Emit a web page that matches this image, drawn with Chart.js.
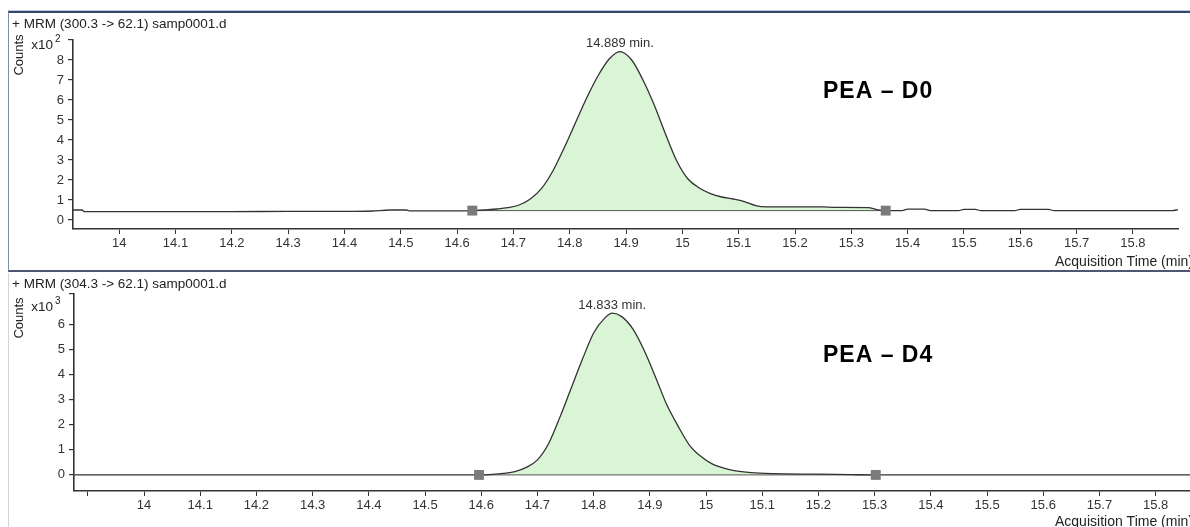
<!DOCTYPE html>
<html>
<head>
<meta charset="utf-8">
<title>MRM chromatograms</title>
<script src="https://cdn.jsdelivr.net/npm/chart.js@4.4.1/dist/chart.umd.min.js"></script>
<style>
  html, body { margin: 0; padding: 0; background: #fff; overflow: hidden; }
  body { width: 1190px; height: 527px; position: relative; }
  .frame { position: absolute; box-sizing: border-box; }
  #f1 { left: 8px; top: 11px; width: 1200px; height: 261px;
        border-top: 2px solid #34446a; border-left: 1px solid #7f8db0; border-bottom: 2px solid #4c5673;
        box-shadow: 0 -1px 0 #bccbea; }
  #f2 { left: 8px; top: 273px; width: 1200px; height: 270px; border-left: 1px solid #d4d4d4; }
  canvas { position: absolute; left: 0; }
  #c1 { top: 0; }
  #c2 { top: 272px; }
</style>
</head>
<body>
<div class="frame" id="f1"></div>
<div class="frame" id="f2"></div>
<canvas id="c1" width="1210" height="270"></canvas>
<canvas id="c2" width="1210" height="255"></canvas>
<script>
// shared x axis ticks (minutes)
const xTickValues = [13.9, 14.0, 14.1, 14.2, 14.3, 14.4, 14.5, 14.6, 14.7, 14.8, 14.9,
                     15.0, 15.1, 15.2, 15.3, 15.4, 15.5, 15.6, 15.7, 15.8];
const xTickLabels = ['', '14', '14.1', '14.2', '14.3', '14.4', '14.5', '14.6', '14.7', '14.8', '14.9',
                     '15', '15.1', '15.2', '15.3', '15.4', '15.5', '15.6', '15.7', '15.8'];

// PEA - D0 : MRM 300.3 -> 62.1, counts x10^2
const d0Time = [13.918, 13.934, 13.938, 14.0, 14.1, 14.2, 14.3, 14.4, 14.45, 14.48, 14.51, 14.515,
                14.6, 14.627, 14.65, 14.67, 14.69, 14.71, 14.73, 14.75, 14.77, 14.79, 14.81, 14.83,
                14.85, 14.87, 14.889, 14.91, 14.93, 14.95, 14.97, 14.99, 15.01, 15.03, 15.05, 15.07,
                15.09, 15.11, 15.13, 15.15, 15.25, 15.27, 15.33, 15.345, 15.361, 15.39, 15.4, 15.43,
                15.44, 15.49, 15.5, 15.52, 15.53, 15.59, 15.6, 15.65, 15.66, 15.87, 15.88];
const d0Counts = [0.5, 0.5, 0.42, 0.42, 0.42, 0.42, 0.43, 0.43, 0.45, 0.5, 0.5, 0.46,
                  0.46, 0.47, 0.5, 0.55, 0.62, 0.75, 1.05, 1.58, 2.45, 3.6, 4.85, 6.1,
                  7.2, 8.05, 8.42, 8.0, 7.0, 5.75, 4.3, 2.95, 2.05, 1.6, 1.32, 1.15,
                  1.05, 0.92, 0.72, 0.66, 0.66, 0.63, 0.62, 0.52, 0.47, 0.47, 0.54, 0.54,
                  0.47, 0.47, 0.53, 0.53, 0.47, 0.47, 0.53, 0.53, 0.47, 0.47, 0.52];
const d0Window = [14.627, 15.361];
const d0Base = 0.47;
const d0YTicks = [0, 1, 2, 3, 4, 5, 6, 7, 8, 9];
const d0YLabels = ['0', '1', '2', '3', '4', '5', '6', '7', '8', ''];

// PEA - D4 : MRM 304.3 -> 62.1, counts x10^3
const d4Time = [13.876, 14.3, 14.596, 14.62, 14.64, 14.66, 14.68, 14.7, 14.72, 14.74, 14.76,
                14.78, 14.8, 14.82, 14.833, 14.85, 14.87, 14.89, 14.91, 14.93, 14.95, 14.97,
                14.99, 15.01, 15.03, 15.05, 15.08, 15.12, 15.2, 15.26, 15.302, 15.87];
const d4Counts = [0, 0, 0, 0.02, 0.06, 0.13, 0.3, 0.6, 1.25, 2.3, 3.45,
                  4.6, 5.65, 6.25, 6.44, 6.3, 5.8, 4.95, 3.9, 2.8, 1.95, 1.2,
                  0.75, 0.45, 0.28, 0.17, 0.09, 0.05, 0.03, 0.01, 0, 0];
const d4Window = [14.596, 15.302];
const d4Base = 0;
const d4YTicks = [0, 1, 2, 3, 4, 5, 6, 7.2];
const d4YLabels = ['0', '1', '2', '3', '4', '5', '6', ''];

const FONT = '"Liberation Sans", Arial, sans-serif';

// text drawn around each chromatogram: header, Counts, exponent, peak apex, tag
const panelText = {
  id: 'panelText',
  afterDraw(chart, args, o) {
    const ctx = chart.ctx;
    const area = chart.chartArea;
    const xs = chart.scales.x, ys = chart.scales.y;
    ctx.save();
    ctx.fillStyle = '#222';
    ctx.textBaseline = 'middle';

    ctx.font = '13.5px ' + FONT;
    ctx.textAlign = 'left';
    ctx.fillText(o.title, 12, o.titleY);

    ctx.save();
    ctx.translate(19, o.countsY);
    ctx.rotate(-Math.PI / 2);
    ctx.textAlign = 'center';
    ctx.font = '13px ' + FONT;
    ctx.fillText('Counts', 0, 0);
    ctx.restore();

    ctx.font = '13.5px ' + FONT;
    ctx.textAlign = 'right';
    ctx.fillText('x10', 53, area.top + o.expDy);
    ctx.font = '10px ' + FONT;
    ctx.textAlign = 'left';
    ctx.fillText(o.exp, 55, area.top + o.expDy - 6);

    // apex of the trace
    const pts = chart.data.datasets[2].data;
    let peak = pts[0];
    pts.forEach(p => { if (p.y > peak.y) peak = p; });
    ctx.font = '13px ' + FONT;
    ctx.textAlign = 'center';
    ctx.fillStyle = '#333';
    ctx.fillText(peak.x.toFixed(3) + ' min.', xs.getPixelForValue(peak.x), ys.getPixelForValue(peak.y) - 8);

    ctx.fillStyle = '#222';
    ctx.textAlign = 'left';
    ctx.font = '14px ' + FONT;
    ctx.fillText('Acquisition Time (min)', 1055, area.bottom + o.axisTitleDy);

    ctx.fillStyle = '#000';
    ctx.textBaseline = 'alphabetic';
    ctx.font = 'bold 23px ' + FONT;
    ctx.letterSpacing = '1px';
    ctx.fillText(o.tag, 823, o.tagY);
    ctx.restore();
  }
};

function makePanel(id, cfg) {
  const trace = cfg.time.map((t, i) => ({ x: t, y: cfg.counts[i] }));
  const area = trace.filter(p => p.x >= cfg.window[0] && p.x <= cfg.window[1]);
  const base = cfg.window.map(t => ({ x: t, y: cfg.base }));

  return new Chart(document.getElementById(id), {
    type: 'line',
    data: {
      datasets: [
        {
          data: area,
          fill: { value: cfg.base },
          backgroundColor: '#daf5d6',
          borderWidth: 0,
          pointRadius: 0,
          cubicInterpolationMode: 'monotone',
          order: 4,
        },
        {
          data: base,
          borderColor: '#555',
          borderWidth: 1,
          pointRadius: 0,
          order: 3,
        },
        {
          data: trace,
          borderColor: '#333',
          borderWidth: 1.3,
          pointRadius: 0,
          fill: false,
          cubicInterpolationMode: 'monotone',
          order: 2,
        },
        {
          data: base,
          showLine: false,
          pointStyle: 'rect',
          pointRadius: 7,
          backgroundColor: '#7b7b7b',
          borderWidth: 0,
          order: 1,
        },
      ],
    },
    options: {
      responsive: false,
      animation: false,
      events: [],
      layout: { padding: { top: cfg.padTop, right: cfg.padRight, left: 0, bottom: 0 } },
      plugins: {
        legend: { display: false },
        tooltip: { enabled: false },
        panelText: cfg.text,
      },
      scales: {
        x: {
          type: 'linear',
          min: cfg.xMin,
          max: cfg.xMax,
          afterFit: function (scale) { scale.height = cfg.xHeight; },
          afterBuildTicks: function (scale) {
            scale.ticks = xTickValues
              .filter(v => v >= cfg.xMin && v <= cfg.xMax)
              .map(v => ({ value: v }));
          },
          grid: { drawOnChartArea: false, tickLength: 5, color: '#333', lineWidth: 1 },
          border: { color: '#333', width: 1.6 },
          ticks: {
            autoSkip: false,
            maxRotation: 0,
            padding: 2,
            color: '#333',
            font: { family: FONT, size: 13 },
            callback: function (value) {
              const i = xTickValues.findIndex(v => Math.abs(v - value) < 1e-6);
              return i >= 0 ? xTickLabels[i] : '';
            },
          },
        },
        y: {
          min: cfg.yMin,
          max: cfg.yMax,
          afterFit: function (scale) { scale.width = cfg.yWidth; },
          afterBuildTicks: function (scale) {
            scale.ticks = cfg.yTicks.map(v => ({ value: v }));
          },
          grid: { drawOnChartArea: false, tickLength: 5, color: '#333', lineWidth: 1.2 },
          border: { color: '#333', width: 1.6 },
          ticks: {
            padding: 4,
            color: '#333',
            font: { family: FONT, size: 13 },
            callback: function (value) {
              const i = cfg.yTicks.findIndex(v => Math.abs(v - value) < 1e-6);
              return i >= 0 ? cfg.yLabels[i] : '';
            },
          },
        },
      },
    },
    plugins: [panelText],
  });
}

makePanel('c1', {
  time: d0Time, counts: d0Counts, window: d0Window, base: d0Base,
  yTicks: d0YTicks, yLabels: d0YLabels,
  xMin: 13.918, xMax: 15.88, yMin: -0.45, yMax: 9,
  padTop: 40, padRight: 32, xHeight: 41, yWidth: 73,
  text: { title: '+ MRM (300.3 -> 62.1) samp0001.d', titleY: 24, countsY: 55,
          exp: '2', expDy: 5, tag: 'PEA \u2013 D0', tagY: 98, axisTitleDy: 33 },
});

makePanel('c2', {
  time: d4Time, counts: d4Counts, window: d4Window, base: d4Base,
  yTicks: d4YTicks, yLabels: d4YLabels,
  xMin: 13.8754, xMax: 15.87, yMin: -0.64, yMax: 7.2,
  padTop: 22, padRight: 15, xHeight: 36, yWidth: 74,
  text: { title: '+ MRM (304.3 -> 62.1) samp0001.d', titleY: 12, countsY: 46,
          exp: '3', expDy: 13, tag: 'PEA \u2013 D4', tagY: 90, axisTitleDy: 31 },
});
</script>
</body>
</html>
